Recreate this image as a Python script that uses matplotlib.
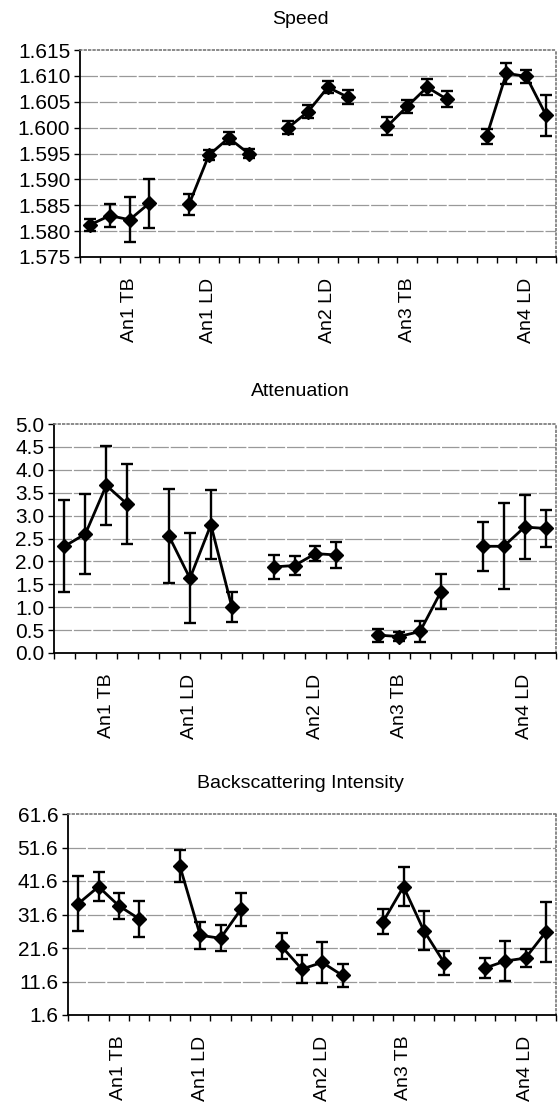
import numpy as np
import matplotlib
matplotlib.use("Agg")
import matplotlib.pyplot as plt
from matplotlib.ticker import FormatStrFormatter

plt.rcParams["font.family"] = ["Liberation Sans", "DejaVu Sans"]

# 24 category slots: four samples per specimen, one empty slot between groups
positions = [0, 1, 2, 3, 5, 6, 7, 8, 10, 11, 12, 13, 15, 16, 17, 18, 20, 21, 22, 23]
label_pos = [2, 6, 12, 16, 22]
labels = ["An1 TB", "An1 LD", "An2 LD", "An3 TB", "An4 LD"]

speed = [1.5812, 1.5830, 1.5822, 1.5854,
         1.5852, 1.5947, 1.5980, 1.5950,
         1.6000, 1.6031, 1.6078, 1.6059,
         1.6003, 1.6041, 1.6078, 1.6055,
         1.5983, 1.6105, 1.6099, 1.6024]
speed_err = [0.0011, 0.0022, 0.0043, 0.0047,
             0.0020, 0.0010, 0.0012, 0.0008,
             0.0012, 0.0013, 0.0012, 0.0013,
             0.0018, 0.0013, 0.0015, 0.0015,
             0.0014, 0.0020, 0.0012, 0.0040]

atten = [2.33, 2.60, 3.66, 3.25,
         2.55, 1.63, 2.80, 1.01,
         1.88, 1.91, 2.17, 2.14,
         0.39, 0.36, 0.47, 1.34,
         2.33, 2.33, 2.75, 2.72]
atten_err = [1.00, 0.88, 0.87, 0.88,
             1.02, 0.98, 0.75, 0.33,
             0.26, 0.20, 0.16, 0.28,
             0.14, 0.10, 0.22, 0.38,
             0.54, 0.94, 0.69, 0.41]

backscatter = [34.8, 39.9, 34.2, 30.3,
               46.1, 25.4, 24.5, 33.1,
               22.1, 15.3, 17.3, 13.4,
               29.5, 39.9, 26.8, 17.2,
               15.6, 17.7, 18.6, 26.4]
backscatter_err = [8.2, 4.4, 3.8, 5.3,
                   4.8, 4.1, 3.9, 4.9,
                   3.9, 4.1, 6.1, 3.5,
                   3.7, 5.8, 5.8, 3.6,
                   2.9, 6.0, 2.8, 9.0]


def draw_panel(ax, values, errors, ymin, ymax, step, fmt):
    # lines are drawn per group of four
    for g in range(5):
        sl = slice(4 * g, 4 * g + 4)
        ax.errorbar(positions[sl], values[sl], yerr=errors[sl], color="black",
                    marker="D", markersize=7.5, linewidth=2.0, elinewidth=1.7,
                    capsize=4, capthick=1.7, zorder=3)
    ax.set_xlim(-0.5, 23.5)
    ax.set_ylim(ymin, ymax)
    yt = np.arange(ymin, ymax + step / 2, step)
    ax.set_yticks(yt)
    ax.yaxis.set_major_formatter(FormatStrFormatter(fmt))
    for y in yt[1:-1]:
        ax.axhline(y, color="#999999", linewidth=0.9, linestyle=(0, (14, 1.5)), zorder=1)
    ax.set_xticks(np.arange(-0.5, 24, 1))
    ax.set_xticklabels([])
    ax.set_xticks(label_pos, minor=True)
    ax.set_xticklabels(labels, minor=True, rotation=90, fontsize=14)
    ax.tick_params(axis="x", which="major", length=4, width=1, direction="out")
    ax.tick_params(axis="x", which="minor", length=0, pad=15)
    ax.tick_params(axis="y", length=4, width=1, labelsize=15, pad=3)
    for side in ["top", "right"]:
        ax.spines[side].set_color("#777777")
        ax.spines[side].set_linestyle(":")
        ax.spines[side].set_linewidth(1.2)
    for side in ["left", "bottom"]:
        ax.spines[side].set_linewidth(1.3)


fig = plt.figure(figsize=(5.58, 11.06), dpi=100)
W, H = 558, 1106

ax1 = fig.add_axes([80 / W, 1 - 257 / H, 476 / W, 207 / H])
draw_panel(ax1, speed, speed_err, 1.575, 1.615, 0.005, "%.3f")

ax2 = fig.add_axes([54 / W, 1 - 653 / H, 502 / W, 229 / H])
draw_panel(ax2, atten, atten_err, 0.0, 5.0, 0.5, "%.1f")

ax3 = fig.add_axes([68 / W, 1 - 1015 / H, 488 / W, 201 / H])
draw_panel(ax3, backscatter, backscatter_err, 1.6, 61.6, 10, "%.1f")

fig.text(300 / W, 1 - 20 / H, "Speed", ha="center", va="center", fontsize=14)
fig.text(300 / W, 1 - 392 / H, "Attenuation", ha="center", va="center", fontsize=14)
fig.text(300 / W, 1 - 783 / H, "Backscattering Intensity", ha="center", va="center", fontsize=14)

fig.savefig("out.png", dpi=100)
